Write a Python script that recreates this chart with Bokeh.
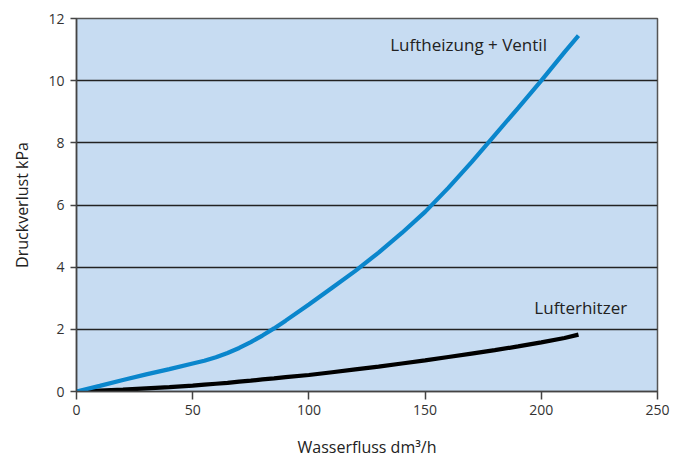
from bokeh.plotting import figure
from bokeh.embed import file_html
from bokeh.resources import INLINE
from bokeh.models import Range1d, FixedTicker, Label

# Data
flow = [0, 10, 20, 30, 40, 50, 55, 60, 65, 70, 75, 80, 85, 90, 100, 110, 120,
        130, 140, 150, 160, 170, 180, 190, 200, 210, 216]
heizung_ventil = [0, 0.18, 0.37, 0.55, 0.72, 0.9, 0.99, 1.1, 1.24, 1.4, 1.59,
                  1.8, 2.03, 2.28, 2.8, 3.34, 3.88, 4.47, 5.1, 5.78, 6.55,
                  7.38, 8.25, 9.12, 10.0, 10.92, 11.45]
lufterhitzer = [0, 0.03, 0.06, 0.1, 0.14, 0.19, 0.22, 0.25, 0.28, 0.32, 0.35,
                0.39, 0.42, 0.46, 0.53, 0.62, 0.71, 0.8, 0.9, 1.0, 1.11, 1.22,
                1.33, 1.45, 1.58, 1.72, 1.83]
x_ticks = [0, 50, 100, 150, 200, 250]
y_ticks = [0, 2, 4, 6, 8, 10, 12]
series_labels = ["Luftheizung + Ventil", "Lufterhitzer"]
label_pos = [(135, 11.15), (197, 2.7)]

FONT = "Open Sans"

p = figure(frame_width=581, frame_height=373, output_backend="svg",
           toolbar_location=None, x_range=Range1d(0, 250), y_range=Range1d(0, 12),
           min_border_left=76, min_border_top=18, min_border_right=22,
           min_border_bottom=60)
p.background_fill_color = "#c7dcf2"
p.border_fill_color = "white"
p.outline_line_color = "#555555"
p.outline_line_width = 1.5

p.xgrid.grid_line_color = None
p.ygrid.grid_line_color = "#222222"
p.ygrid.grid_line_width = 1.5
p.ygrid.ticker = FixedTicker(ticks=y_ticks)

p.xaxis.ticker = FixedTicker(ticks=x_ticks)
p.yaxis.ticker = FixedTicker(ticks=y_ticks)
for ax in (p.xaxis, p.yaxis):
    ax.axis_line_color = "#444444"
    ax.axis_line_width = 1.5
    ax.major_tick_line_color = "#444444"
    ax.major_tick_line_width = 1.5
    ax.minor_tick_line_color = None
    ax.major_tick_in = 0
    ax.major_label_text_font = FONT
    ax.major_label_text_font_size = "14px"
    ax.major_label_text_color = "#333333"
    ax.axis_label_text_font = FONT
    ax.axis_label_text_font_size = "16px"
    ax.axis_label_text_font_style = "normal"
    ax.axis_label_text_color = "#222222"
p.xaxis.major_tick_out = 8
p.yaxis.major_tick_out = 6
p.xaxis.major_label_standoff = 5
p.yaxis.major_label_standoff = 6
p.xaxis.axis_label = "Wasserfluss dm³/h"
p.yaxis.axis_label = "Druckverlust kPa"
p.xaxis.axis_label_standoff = 18
p.yaxis.axis_label_standoff = 12

p.line(flow, lufterhitzer, line_color="black", line_width=4.2)
p.line(flow, heizung_ventil, line_color="#0a86cc", line_width=4.2)

for txt, (lx, ly) in zip(series_labels, label_pos):
    p.add_layout(Label(x=lx, y=ly, text=txt, text_font=FONT,
                       text_font_size="17px", text_color="#222222",
                       text_baseline="middle", text_align="left"))

open("out.html", "w").write(file_html(p, INLINE))
